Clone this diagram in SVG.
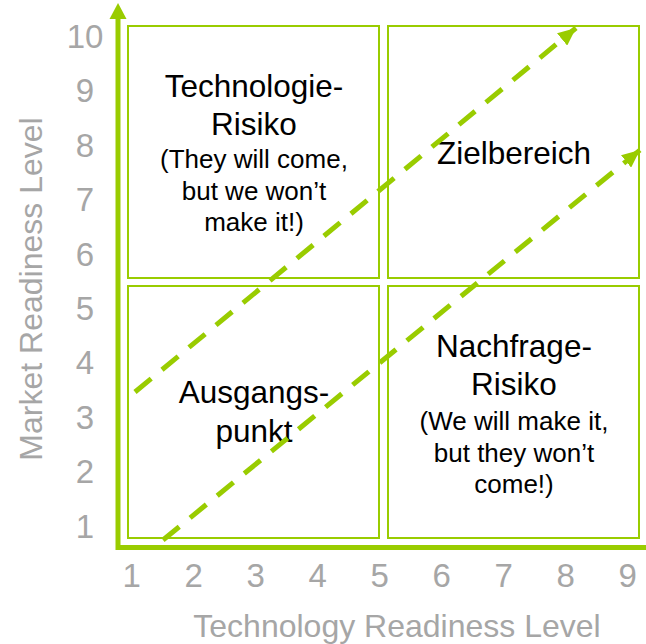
<svg xmlns="http://www.w3.org/2000/svg" width="646" height="644" viewBox="0 0 646 644">
  <style>
    .box { fill: #FFFFFF; stroke: #99CC00; stroke-width: 2; }
    .title { font-family: "Liberation Sans", Arial, sans-serif; font-size: 31.5px; fill: #000000; text-anchor: middle; }
    .sub { font-family: "Liberation Sans", Arial, sans-serif; font-size: 26px; fill: #000000; text-anchor: middle; }
    .tick { font-family: "Liberation Sans", Arial, sans-serif; font-size: 33px; fill: #A6A6A6; text-anchor: middle; }
    .axislabel { font-family: "Liberation Sans", Arial, sans-serif; font-size: 32px; fill: #A6A6A6; text-anchor: middle; }
    .axis { fill: none; stroke: #99CC00; stroke-width: 5; stroke-linejoin: miter; }
    .path { fill: none; stroke: #99CC00; stroke-width: 5; stroke-dasharray: 21 14; marker-end: url(#arrow); }
  </style>
  <defs>
    <marker id="arrow" viewBox="0 0 18 16" refX="18" refY="8" markerWidth="18" markerHeight="16" markerUnits="userSpaceOnUse" orient="auto">
      <path d="M0,0 L18,8 L0,16 Z" fill="#99CC00"/>
    </marker>
  </defs>
  <rect width="646" height="644" fill="#FFFFFF"/>

  <!-- quadrants -->
  <g id="technologie-risiko">
    <rect class="box" x="128" y="26" width="251" height="252"/>
    <text class="title" x="254" y="97">Technologie-</text>
    <text class="title" x="254" y="135">Risiko</text>
    <text class="sub" x="254" y="168">(They will come,</text>
    <text class="sub" x="254" y="200">but we won’t</text>
    <text class="sub" x="254" y="231">make it!)</text>
  </g>
  <g id="zielbereich">
    <rect class="box" x="388" y="26" width="251" height="252"/>
    <text class="title" x="514" y="164">Zielbereich</text>
  </g>
  <g id="ausgangspunkt">
    <rect class="box" x="128" y="286" width="251" height="252"/>
    <text class="title" x="254" y="403">Ausgangs-</text>
    <text class="title" x="254" y="442">punkt</text>
  </g>
  <g id="nachfrage-risiko">
    <rect class="box" x="388" y="286" width="251" height="252"/>
    <text class="title" x="514" y="357">Nachfrage-</text>
    <text class="title" x="514" y="395">Risiko</text>
    <text class="sub" x="514" y="430">(We will make it,</text>
    <text class="sub" x="514" y="462">but they won’t</text>
    <text class="sub" x="514" y="493">come!)</text>
  </g>

  <!-- axes and trajectories -->
  <g id="connectors">
    <path class="axis" d="M118,18 L118,547.5 L646,547.5"/>
    <polygon points="118,3 109.5,19 126.5,19" fill="#99CC00"/>
    <path class="path" d="M135,392 L576,28"/>
    <path class="path" d="M163,540 L640,150"/>
  </g>

  <!-- y axis scale -->
  <g id="y-scale">
    <text class="tick" x="85" y="48">10</text>
    <text class="tick" x="85" y="102">9</text>
    <text class="tick" x="85" y="157">8</text>
    <text class="tick" x="85" y="211">7</text>
    <text class="tick" x="85" y="266">6</text>
    <text class="tick" x="85" y="320">5</text>
    <text class="tick" x="85" y="374">4</text>
    <text class="tick" x="85" y="429">3</text>
    <text class="tick" x="85" y="483">2</text>
    <text class="tick" x="85" y="538">1</text>
    <text class="axislabel" transform="translate(41.5,289) rotate(-90)">Market Readiness Level</text>
  </g>

  <!-- x axis scale -->
  <g id="x-scale">
    <text class="tick" x="131.7" y="587">1</text>
    <text class="tick" x="193.7" y="587">2</text>
    <text class="tick" x="255.7" y="587">3</text>
    <text class="tick" x="317.7" y="587">4</text>
    <text class="tick" x="379.7" y="587">5</text>
    <text class="tick" x="441.7" y="587">6</text>
    <text class="tick" x="503.7" y="587">7</text>
    <text class="tick" x="565.7" y="587">8</text>
    <text class="tick" x="627.7" y="587">9</text>
    <text class="axislabel" x="397" y="637">Technology Readiness Level</text>
  </g>
</svg>
